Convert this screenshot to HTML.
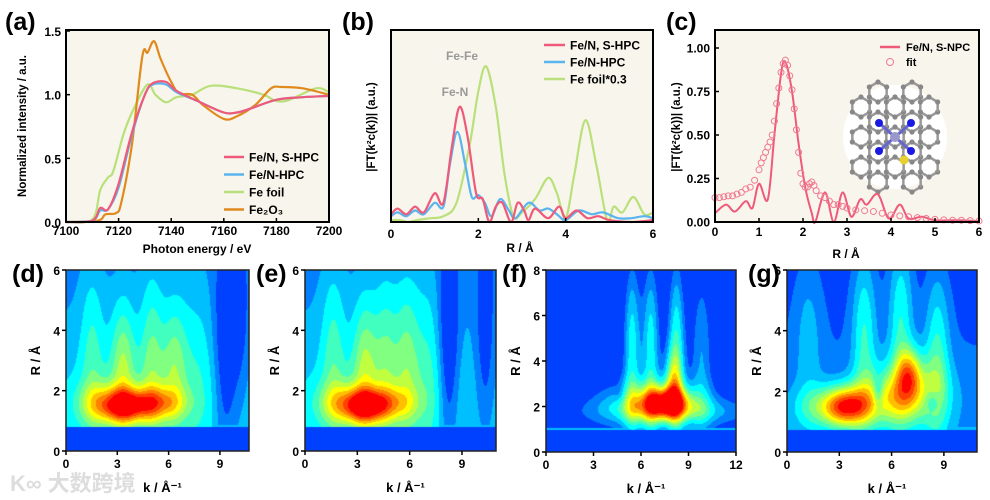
<!DOCTYPE html>
<html><head><meta charset="utf-8">
<style>
body{margin:0;background:#fff;width:990px;height:500px;overflow:hidden;position:relative;font-family:"Liberation Sans","Noto Sans CJK SC",sans-serif}
canvas{position:absolute}
svg{position:absolute;left:0;top:0}
text{font-family:"Liberation Sans","Noto Sans CJK SC",sans-serif;font-weight:bold}
</style></head><body>
<canvas id="cd" style="left:66px;top:270px" width="183" height="181"></canvas>
<canvas id="ce" style="left:305px;top:270px" width="191" height="181"></canvas>
<canvas id="cf" style="left:546px;top:270px" width="190" height="182"></canvas>
<canvas id="cg" style="left:787px;top:270px" width="190" height="182"></canvas>
<svg id="s" width="990" height="500"></svg>
<script>
// ---- panel (a) data: XANES ----
const aFeNS_x=[7100,7110,7113,7116,7120,7125,7130,7133,7138,7142,7150,7160,7165,7170,7180,7190,7200];
const aFeNS_y=[0,0.01,0.11,0.1,0.3,0.7,1.0,1.09,1.1,1.03,0.95,0.86,0.86,0.89,0.96,0.98,0.99];
const aFeN_x=[7100,7110,7113,7116,7120,7125,7130,7133,7138,7142,7150,7160,7165,7170,7180,7190,7200];
const aFeN_y=[0,0.01,0.09,0.1,0.27,0.68,1.0,1.08,1.08,1.02,0.95,0.86,0.86,0.89,0.96,0.98,0.99];
const aFoil_x=[7100,7110,7113,7116,7118,7122,7126,7131,7134,7138,7142,7148,7155,7165,7175,7180,7185,7195,7200];
const aFoil_y=[0,0.02,0.25,0.35,0.4,0.7,0.9,1.08,1.0,0.94,0.98,1.0,1.07,1.05,1.0,0.95,0.96,1.05,1.02];
const aOx_x=[7100,7112,7115,7119,7121,7125,7129,7131,7133.5,7136,7140,7143,7148,7152,7160,7165,7172,7178,7182,7190,7200];
const aOx_y=[0,0.01,0.06,0.07,0.15,0.6,1.3,1.33,1.42,1.28,1.1,1.01,1.0,0.92,0.81,0.83,0.92,1.05,1.06,1.05,1.0];
const aTicksX=[7100,7120,7140,7160,7180,7200];
const aTicksY=[0,0.5,1.0,1.5];
// ---- panel (b) data: FT-EXAFS ----
const bFeNS_x=[0,0.15,0.35,0.55,0.75,1.0,1.2,1.4,1.57,1.75,1.95,2.1,2.25,2.4,2.55,2.75,2.9,3.05,3.15,3.3,3.6,3.85,4.0,4.25,4.5,4.75,5,5.5,6];
const bFeNS_y=[0.04,0.07,0.04,0.08,0.05,0.15,0.1,0.4,0.6,0.45,0.15,0.12,0,0.08,0.1,0,0.1,0.06,0.01,0.07,0.02,0.08,0.02,0.06,0.02,0.03,0.01,0,0.01];
const bFeN_x=[0,0.15,0.35,0.55,0.75,1.0,1.2,1.35,1.52,1.7,1.85,2.0,2.15,2.3,2.5,2.7,2.85,3.15,3.4,3.6,3.8,4.0,4.3,4.6,4.85,5.2,5.5,5.8,6];
const bFeN_y=[0.03,0.05,0.03,0.06,0.04,0.1,0.08,0.3,0.47,0.3,0.13,0.14,0.1,0.03,0.12,0.06,0.02,0.1,0.06,0.07,0.04,0.01,0.06,0.04,0.05,0.02,0.02,0.03,0.02];
const bFoil_x=[0,0.2,0.4,0.6,0.9,1.2,1.5,1.8,2.0,2.18,2.4,2.6,2.8,3.0,3.3,3.6,3.8,4.0,4.2,4.45,4.7,4.95,5.1,5.3,5.55,5.8,6.0];
const bFoil_y=[0.01,0.01,0,0.01,0.02,0.03,0.1,0.4,0.68,0.81,0.6,0.25,0.03,0.05,0.12,0.23,0.15,0.02,0.25,0.53,0.3,0.01,0.08,0.05,0.13,0.04,0.05];
const bTicksX=[0,2,4,6];
// ---- panel (c) data ----
const cExp_x=[0,0.25,0.45,0.7,0.85,1.0,1.2,1.35,1.5,1.6,1.75,1.9,2.05,2.2,2.28,2.5,2.7,2.9,3.1,3.3,3.45,3.7,3.95,4.2,4.4,4.7,5,5.5,6];
const cExp_y=[0.05,0.1,0.06,0.12,0.08,0.22,0.13,0.5,0.85,0.92,0.75,0.45,0.2,0.05,0,0.17,0,0.17,0.03,0.13,0.1,0.16,0.02,0.1,0.02,0.03,0.01,0.01,0.005];
const cFit_x=[0,0.1,0.2,0.3,0.4,0.5,0.6,0.7,0.8,0.9,1.0,1.05,1.1,1.15,1.2,1.25,1.3,1.35,1.4,1.45,1.5,1.55,1.6,1.65,1.7,1.75,1.8,1.85,1.9,1.95,2.0,2.05,2.1,2.15,2.2,2.25,2.3,2.4,2.5,2.6,2.7,2.8,2.9,3.0,3.2,3.4,3.6,3.8,4.0,4.2,4.4,4.6,4.8,5.0,5.2,5.4,5.6,5.8,6.0];
const cFit_y=[0.14,0.14,0.145,0.15,0.15,0.16,0.17,0.19,0.2,0.24,0.3,0.34,0.37,0.4,0.43,0.46,0.5,0.58,0.68,0.77,0.86,0.91,0.93,0.9,0.84,0.76,0.65,0.53,0.4,0.28,0.22,0.2,0.2,0.22,0.23,0.21,0.18,0.15,0.14,0.12,0.1,0.1,0.09,0.08,0.07,0.065,0.06,0.05,0.04,0.035,0.03,0.025,0.02,0.015,0.012,0.01,0.01,0.008,0.006];
const cTicksX=[0,1,2,3,4,5,6];
const cTicksY=[0,0.25,0.5,0.75,1.0];
// ---- wavelet blobs: k center, R center, k width, R width, amplitude ----
const dK=[3.4,5.3,2.0,1.5,3.3,5.0,6.3,7.6,9.3,10.2,4.5];
const dR=[1.5,1.6,1.6,3.5,3.0,3.3,3.0,3.0,3.2,4,2.2];
const dW=[1.0,1.1,1.0,0.5,0.5,0.5,0.5,0.8,0.5,0.4,3.0];
const dH=[0.4,0.4,0.5,2.0,1.5,2.0,1.5,2.5,2.5,2,1.0];
const dA=[0.42,0.3,0.2,0.12,0.2,0.16,0.16,0.07,-0.17,-0.08,0.06];
const eK=[3.4,5.0,2.0,1.6,3.4,4.6,5.8,7.0,8.2,10.3,4.2];
const eR=[1.5,1.6,1.6,3.5,3.0,3.2,3.2,3.0,3.5,3.5,2.2];
const eW=[0.9,1.0,1.0,0.5,0.5,0.5,0.5,0.6,0.4,0.4,2.8];
const eH=[0.4,0.4,0.5,2.0,1.6,2.0,2.0,2.5,2.5,2.5,1.0];
const eA=[0.45,0.2,0.2,0.13,0.2,0.15,0.16,0.09,-0.18,-0.12,0.06];
const fK=[7.5,8.0,6.8,5.4,6.6,8.2,9.8,8.0,4.6];
const fR=[2.2,3.2,2.2,5.0,5.0,5.0,5.0,1.8,2.6];
const fW=[1.0,0.4,2.3,0.4,0.4,0.4,0.5,3.5,0.25];
const fH=[0.45,1.0,0.7,3.0,3.0,3.0,3.0,0.4,0.3];
const fA=[0.45,0.25,0.3,0.28,0.28,0.3,0.18,0.15,-0.05];
const gK=[3.4,7.0,7.0,5.5,1.2,4.4,6.5,8.6,5.2,8.3,2.0];
const gR=[1.5,2.6,2.0,1.7,4.0,4.0,4.5,3.2,2.0,1.7,1.5];
const gW=[0.9,0.5,1.5,1.5,0.6,0.5,0.5,0.5,0.2,0.3,1.2];
const gH=[0.45,0.6,0.8,0.6,2.0,2.0,2.0,2.0,0.35,0.25,0.5];
const gA=[0.48,0.3,0.25,0.2,0.1,0.2,0.2,0.2,-0.15,-0.12,0.18];

const NS='http://www.w3.org/2000/svg';
const svg=document.getElementById('s');
function el(tag,attrs,parent){const e=document.createElementNS(NS,tag);for(const k in attrs)e.setAttribute(k,attrs[k]);(parent||svg).appendChild(e);return e;}
function txt(x,y,s,size,anchor,fill,parent,rot){const t=el('text',{x:x,y:y,'font-size':size,'text-anchor':anchor||'middle',fill:fill||'#000'},parent);if(rot)t.setAttribute('transform','rotate(-90 '+x+' '+y+')');t.textContent=s;return t;}
function lin(d0,d1,p0,p1){return v=>p0+(v-d0)/(d1-d0)*(p1-p0);}
function path(xs,ys,sx,sy,color,name,w){
const P=xs.map((x,i)=>[sx(x),sy(ys[i])]);let d='M'+P[0][0].toFixed(1)+' '+P[0][1].toFixed(1);
for(let i=0;i<P.length-1;i++){const p0=P[Math.max(0,i-1)],p1=P[i],p2=P[i+1],p3=P[Math.min(P.length-1,i+2)];
const c1=[p1[0]+(p2[0]-p0[0])/6,p1[1]+(p2[1]-p0[1])/6],c2=[p2[0]-(p3[0]-p1[0])/6,p2[1]-(p3[1]-p1[1])/6];
d+='C'+c1.map(v=>v.toFixed(1)).join(' ')+' '+c2.map(v=>v.toFixed(1)).join(' ')+' '+p2[0].toFixed(1)+' '+p2[1].toFixed(1);}
const g=el('path',{d:d,fill:'none',stroke:color,'stroke-width':w||2.2,'stroke-linejoin':'round'});return g;}

// panel a
{const sx=lin(7100,7200,66,329),sy=lin(0,1.5,222,31);
el('rect',{x:66,y:30,width:263,height:192,fill:'#f8f6ec'});
path(aFoil_x,aFoil_y,sx,sy,'#b9e07a','series-fe-foil');
path(aOx_x,aOx_y,sx,sy,'#e08a1e','series-fe2o3');
path(aFeN_x,aFeN_y,sx,sy,'#5ab4ee','series-fe-n-hpc');
path(aFeNS_x,aFeNS_y,sx,sy,'#ef5a7a','series-fe-ns-hpc');
el('rect',{x:66,y:30,width:263,height:192,fill:'none',stroke:'#000','stroke-width':2});
aTicksX.forEach(v=>{el('line',{x1:sx(v),x2:sx(v),y1:222,y2:218,stroke:'#000','stroke-width':1.5});const t=txt(sx(v),235,v,12);});
aTicksY.forEach(v=>{el('line',{x1:66,x2:70,y1:sy(v),y2:sy(v),stroke:'#000','stroke-width':1.5});const t=txt(61,sy(v)+5,v.toFixed(1),12,'end');});
txt(197,253,'Photon energy / eV',12);
txt(26,126,'Normalized intensity / a.u.',11.5,'middle','#000',null,true);
const L=[['Fe/N, S-HPC','#ef5a7a'],['Fe/N-HPC','#5ab4ee'],['Fe foil','#b9e07a'],['Fe\u2082O\u2083','#e08a1e']];
L.forEach((l,i)=>{const y=157+i*17.5;const g=el('g',{});el('line',{x1:224,x2:244,y1:y,y2:y,stroke:l[1],'stroke-width':2.5},g);txt(249,y+4.5,l[0],12,'start','#000',g);});
txt(5,30,'(a)',25,'start');}

// panel b
{const sx=lin(0,6,391,653),sy=lin(0,1,222,30);
el('rect',{x:391,y:30,width:262,height:192,fill:'#f8f6ec'});
path(bFoil_x,bFoil_y,sx,sy,'#b9e07a','series-fe-foil');
path(bFeN_x,bFeN_y,sx,sy,'#5ab4ee','series-fe-n-hpc');
path(bFeNS_x,bFeNS_y,sx,sy,'#ef5a7a','series-fe-ns-hpc');
el('rect',{x:391,y:30,width:262,height:192,fill:'none',stroke:'#000','stroke-width':2});
bTicksX.forEach(v=>{el('line',{x1:sx(v),x2:sx(v),y1:222,y2:218,stroke:'#000','stroke-width':1.5});const t=txt(sx(v),238,v,12);});
txt(520,252,'R / Å',12);
txt(375,127,'|FT(k²c(k))| (a.u.)',11.5,'middle','#000',null,true);
txt(455,96,'Fe-N',12,'middle','#999');
txt(462,60,'Fe-Fe',12,'middle','#999');
const L=[['Fe/N, S-HPC','#ef5a7a'],['Fe/N-HPC','#5ab4ee'],['Fe foil*0.3','#b9e07a']];
L.forEach((l,i)=>{const y=45+i*17;const g=el('g',{});el('line',{x1:544,x2:565,y1:y,y2:y,stroke:l[1],'stroke-width':2.5},g);txt(570,y+4.5,l[0],12,'start','#000',g);});
txt(342,30,'(b)',25,'start');}

// panel c
{const sx=lin(0,6,715,979),sy=lin(0,1,222,48);
el('rect',{x:715,y:30,width:264,height:192,fill:'#f8f6ec'});
const mg=el('g',{});
el('circle',{cx:895,cy:137,r:52,fill:'#fff'},mg);
const hc=[[0,0],[-17,-15],[17,-15],[-17,15],[17,15],[0,-30],[0,30],[-34,0],[34,0],[-34,-30],[34,-30],[-34,30],[34,30],[-17,-45],[17,-45],[-17,45],[17,45]];
hc.forEach(c=>{for(let i=0;i<6;i++){const a=i*Math.PI/3+Math.PI/6,b=a+Math.PI/3,r=10;el('line',{x1:895+c[0]+r*Math.cos(a),y1:137+c[1]+r*Math.sin(a),x2:895+c[0]+r*Math.cos(b),y2:137+c[1]+r*Math.sin(b),stroke:'#999','stroke-width':2.5},mg);el('circle',{cx:895+c[0]+r*Math.cos(a),cy:137+c[1]+r*Math.sin(a),r:2.6,fill:'#888'},mg);}});
[[-16,-14],[16,-14],[-16,14],[16,14]].forEach(p=>{el('line',{x1:895,y1:137,x2:895+p[0],y2:137+p[1],stroke:'#6666cc','stroke-width':3},mg);el('circle',{cx:895+p[0],cy:137+p[1],r:4,fill:'#1a1ae0'},mg);});
el('circle',{cx:895,cy:137,r:5,fill:'#9a98c8'},mg);el('circle',{cx:904,cy:160,r:4.5,fill:'#e8d030'},mg);
path(cExp_x,cExp_y,sx,sy,'#ef5a7a','series-fe-ns-npc',2);
cFit_x.forEach((x,i)=>{const c=el('circle',{cx:sx(x),cy:sy(cFit_y[i]),r:3,fill:'none',stroke:'#f07a90','stroke-width':1});});
el('rect',{x:715,y:30,width:264,height:192,fill:'none',stroke:'#000','stroke-width':2});
cTicksX.forEach(v=>{el('line',{x1:sx(v),x2:sx(v),y1:222,y2:218,stroke:'#000','stroke-width':1.5});const t=txt(sx(v),236,v,12);});
cTicksY.forEach(v=>{el('line',{x1:715,x2:719,y1:sy(v),y2:sy(v),stroke:'#000','stroke-width':1.5});const t=txt(710,sy(v)+4.5,v.toFixed(2),12,'end');});
txt(846,258,'R / Å',12);
txt(680,127,'|FT(k²c(k))| (a.u.)',11.5,'middle','#000',null,true);
let g=el('g',{});
el('line',{x1:880,x2:900,y1:47,y2:47,stroke:'#ef5a7a','stroke-width':2.5},g);txt(906,51,'Fe/N, S-NPC',11,'start','#000',g);
g=el('g',{});
el('circle',{cx:890,cy:62,r:3.5,fill:'none',stroke:'#f07a90'},g);txt(906,66,'fit',11,'start','#000',g);
txt(666,30,'(c)',25,'start');}

// wavelet panels
function jet(v){v=Math.max(0,Math.min(1,v));const c=x=>Math.round(255*Math.max(0,Math.min(1,x)));return [c(1.5-Math.abs(4*v-3)),c(1.5-Math.abs(4*v-2)),c(1.5-Math.abs(4*v-1))];}
function wavelet(id,kmax,rmax,K,R,W,H,A,base,low){
const cv=document.getElementById(id),ctx=cv.getContext('2d'),w=cv.width,h=cv.height,img=ctx.createImageData(w,h);
for(let y=0;y<h;y++)for(let x=0;x<w;x++){const k=x/w*kmax,r=(1-y/h)*rmax;
let v=r<low?0.17:base-0.015*r;
if(r>=low){for(let i=0;i<K.length;i++){v+=A[i]*Math.exp(-((k-K[i])**2)/(2*W[i]**2)-((r-R[i])**2)/(2*H[i]**2));}
v=Math.max(0.17,v); if(r<low+0.08)v=Math.max(v,0.3);}
v=Math.min(0.88,v);
v=Math.round(v*16)/16;const c=jet(v),o=(y*w+x)*4;img.data[o]=c[0];img.data[o+1]=c[1];img.data[o+2]=c[2];img.data[o+3]=255;}
ctx.putImageData(img,0,0);}
wavelet('cd',10.7,6,dK,dR,dW,dH,dA,0.35,0.8);
wavelet('ce',10.95,6,eK,eR,eW,eH,eA,0.35,0.8);
wavelet('cf',12,8,fK,fR,fW,fH,fA,0.17,1.0);
wavelet('cg',10.9,6,gK,gR,gW,gH,gA,0.27,0.75);
const wp=[['d',66,249,10.7,6,[0,3,6,9],[0,2,4,6],12,270,451],['e',305,496,10.95,6,[0,3,6,9],[0,2,4,6],256,270,451],['f',546,736,12,8,[0,3,6,9,12],[0,2,4,6,8],502,270,452],['g',787,977,10.9,6,[0,3,6,9],[0,2,4,6],748,270,452]];
wp.forEach(p=>{const [n,x0,x1,km,rm,kt,rt,lx,y0,y1]=p;const sx=lin(0,km,x0,x1),sy=lin(0,rm,y1,y0);
el('rect',{x:x0,y:y0,width:x1-x0,height:y1-y0,fill:'none',stroke:'#222','stroke-width':1.5});
kt.forEach(v=>{el('line',{x1:sx(v),x2:sx(v),y1:y1,y2:y1+4,stroke:'#000','stroke-width':1.5});const t=txt(sx(v),y1+17,v,12);});
rt.forEach(v=>{el('line',{x1:x0-4,x2:x0,y1:sy(v),y2:sy(v),stroke:'#000','stroke-width':1.5});const t=txt(x0-6,sy(v)+5,v,12,'end');});
txt((x0+x1)/2+5,y1+41,'k / Å⁻¹',13);
txt(x0-26,(y0+y1)/2,'R / Å',13,'middle','#000',null,true);
txt(lx,y0+12,'('+n+')',25,'start');});
const wm=txt(10,491,'K∞ 大数跨境',22,'start','#ddd');
</script>
</body></html>
